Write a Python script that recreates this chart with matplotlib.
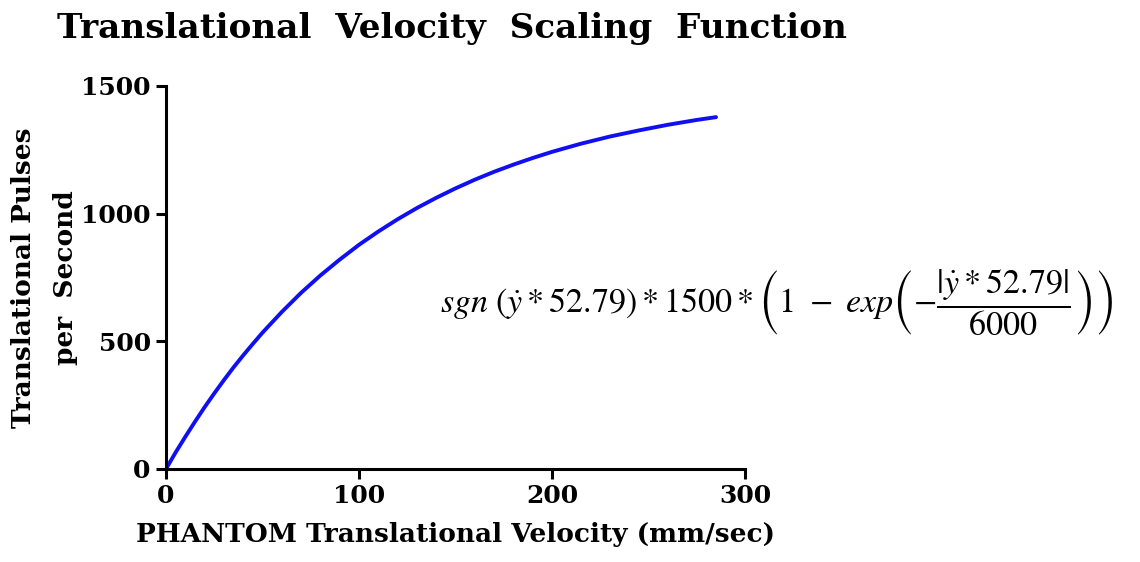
import matplotlib
matplotlib.use("Agg")
import matplotlib.pyplot as plt

velocity = [0, 5, 10, 15, 20, 25, 30, 35, 40, 45, 50, 60, 70, 80, 90, 100,
            110, 120, 130, 140, 150, 160, 170, 180, 190, 200, 215, 230, 245,
            260, 275, 285]
pulses = [0, 65, 126, 185, 242, 296, 348, 398, 445, 490, 534, 615, 690, 758,
          820, 878, 930, 978, 1022, 1062, 1099, 1133, 1164, 1192, 1218, 1242,
          1274, 1302, 1326, 1348, 1367, 1378]
x_ticks = [0, 100, 200, 300]
y_ticks = [0, 500, 1000, 1500]

plt.rcParams['font.family'] = ['DejaVu Serif']
plt.rcParams['mathtext.fontset'] = 'stix'

fig = plt.figure(figsize=(11.4, 5.62), dpi=100)
ax = fig.add_axes([0.1456, 0.1655, 0.6535 - 0.1456, 0.847 - 0.1655])
ax.plot(velocity, pulses, color='#0f0ff2', lw=2.8, solid_capstyle='round')
ax.set_xlim(0, 300)
ax.set_ylim(0, 1500)
ax.set_xticks(x_ticks)
ax.set_yticks(y_ticks)
for s in ['top', 'right']:
    ax.spines[s].set_visible(False)
for s in ['left', 'bottom']:
    ax.spines[s].set_linewidth(2.2)
ax.tick_params(direction='out', length=7, width=2.2, labelsize=18, pad=4)
for lab in ax.get_xticklabels() + ax.get_yticklabels():
    lab.set_fontweight('bold')
ax.set_xlabel('PHANTOM Translational Velocity (mm/sec)', fontsize=19,
              fontweight='bold', labelpad=10)
ax.set_ylabel('Translational Pulses\nper  Second', fontsize=19,
              fontweight='bold', labelpad=2, linespacing=1.85)
fig.text(0.05, 0.95, 'Translational  Velocity  Scaling  Function', fontsize=24.7,
         fontweight='bold', ha='left', va='center')
fig.text(0.386, 0.462,
         r'$sgn\ (\dot{y} * 52.79) * 1500 * \left(1\ -\ exp\left(-\dfrac{|\dot{y} * 52.79|}{6000}\right)\right)$',
         fontsize=24.5, fontweight='normal', ha='left', va='center')
fig.savefig('out.png', dpi=100, facecolor='white')
